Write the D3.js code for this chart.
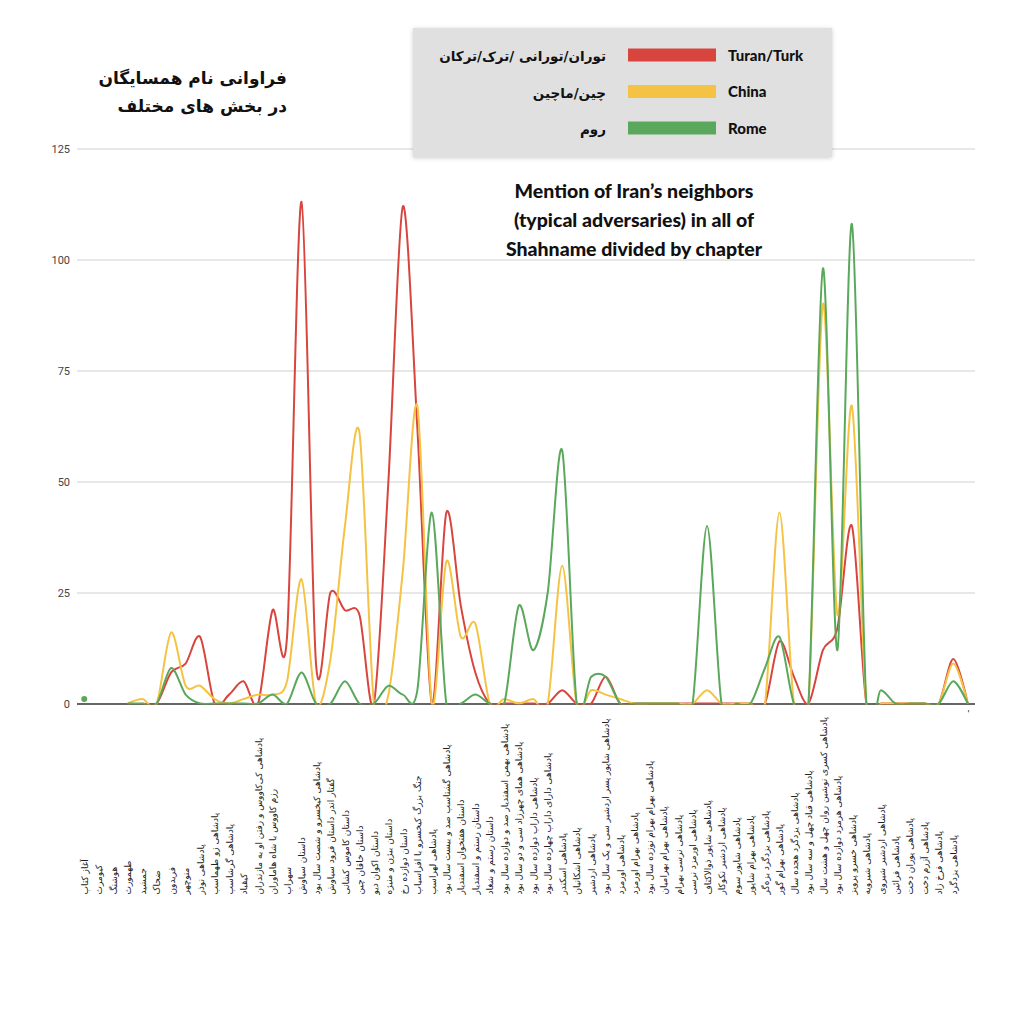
<!DOCTYPE html>
<html>
<head>
<meta charset="utf-8">
<style>
  body { margin: 0; background: #fff; }
  svg { display: block; }
  .ylab text { font-family: Roboto, "Liberation Sans", sans-serif; font-size: 11px; fill: #444; }
  .xlab { font-family: "DejaVu Sans", sans-serif; font-size: 9px; fill: #222; }
  .fa { font-family: "DejaVu Sans", sans-serif; font-weight: bold; fill: #111; }
  .en { font-family: Lato, sans-serif; font-weight: 900; fill: #111; }
</style>
</head>
<body>
<script src="https://cdn.jsdelivr.net/npm/d3@7/dist/d3.min.js"></script>
<script>
  // chapters of the Shahname (x categories)
  var chapters = [
    "آغاز کتاب", "کیومرث", "هوشنگ", "طهمورث", "جمشید", "ضحاک", "فریدون", "منوچهر",
    "پادشاهی نوذر", "پادشاهی زو طهماسب", "پادشاهی گرشاسب", "کیقباد",
    "پادشاهی کی‌کاووس و رفتن او به مازندران", "رزم کاووس با شاه هاماوران", "سهراب",
    "داستان سیاوش", "پادشاهی کیخسرو و شصت سال بود", "گفتار اندر داستان فرود سیاوش",
    "داستان کاموس کشانی", "داستان خاقان چین", "داستان اکوان دیو", "داستان بیژن و منیژه",
    "داستان دوازده رخ", "جنگ بزرگ کیخسرو با افراسیاب", "پادشاهی لهراسب",
    "پادشاهی گشتاسب صد و بیست سال بود", "داستان هفتخوان اسفندیار", "داستان رستم و اسفندیار",
    "داستان رستم و شغاد", "پادشاهی بهمن اسفندیار صد و دوازده سال بود",
    "پادشاهی همای چهرزاد سی و دو سال بود", "پادشاهی داراب دوازده سال بود",
    "پادشاهی دارای داراب چهارده سال بود", "پادشاهی اسکندر", "پادشاهی اشکانیان",
    "پادشاهی اردشیر", "پادشاهی شاپور پسر اردشیر سی و یک سال بود", "پادشاهی اورمزد",
    "پادشاهی بهرام اورمزد", "پادشاهی بهرام بهرام نوزده سال بود", "پادشاهی بهرام بهرامیان",
    "پادشاهی نرسی بهرام", "پادشاهی اورمزد نرسی", "پادشاهی شاپور ذوالاکتاف",
    "پادشاهی اردشیر نکوکار", "پادشاهی شاپور سوم", "پادشاهی بهرام شاپور",
    "پادشاهی یزدگرد بزه‌گر", "پادشاهی بهرام گور", "پادشاهی یزدگرد هجده سال",
    "پادشاهی قباد چهل و سه سال بود", "پادشاهی کسری نوشین روان چهل و هشت سال",
    "پادشاهی هرمزد دوازده سال بود", "پادشاهی خسرو پرویز", "پادشاهی شیرویه",
    "پادشاهی اردشیر شیروی", "پادشاهی فرائین", "پادشاهی پوران دخت", "پادشاهی آزرم دخت",
    "پادشاهی فرخ زاد", "پادشاهی یزدگرد", "-"
  ];

  // mentions per chapter (null = no value)
  var turan = [null, null, null, null, 0, 0, 7, 9, 15, 0, 2, 5, 0, 21, 15, 113, 9, 25, 21, 20,
               0, 50, 112, 62, 0, 43, 22, 7, 0, 0, 0, 0, 0, 3, 0, 0, 6, 0, 0, 0,
               0, 0, 0, 0, 0, 0, 0, 0, 14, 6, 0, 12, 17, 40, 0, 0, 0, 0, 0, 0, 10, 0];
  var china = [null, null, null, 0, 1, 0, 16, 4, 4, 1, 0, 1, 2, 2, 5, 28, 0, 10, 40, 61,
               0, 2, 30, 67, 0, 32, 15, 18, 0, 1, 0, 1, 0, 31, 0, 3, 2, 1, 0, 0,
               0, 0, 0, 3, 0, 0, 0, 0, 43, 0, 0, 90, 20, 67, 0, 0, 0, 0, 0, 0, 9, 0];
  var rome  = [1, null, null, 0, 0, 0, 8, 2, 0, 0, 0, 0, 0, 2, 0, 7, 0, 0, 5, 0,
               0, 4, 2, 3, 43, 0, 0, 2, 0, 0, 22, 12, 25, 57, 0, 6, 6, 0, 0, 0,
               0, 0, 0, 40, 0, 0, 0, 8, 15, 0, 0, 98, 12, 108, 0, 3, 0, 0, 0, 0, 5, 0];

  var yTicks = [0, 25, 50, 75, 100, 125];
  var seriesNames = ["Turan/Turk", "China", "Rome"];
  var seriesNamesFa = ["توران/تورانی /ترک/ترکان", "چین/ماچین", "روم"];
  var titleLines = ["فراوانی نام همسایگان", "در بخش های مختلف"];
  var subtitleLines = ["Mention of Iran’s neighbors", "(typical adversaries) in all of", "Shahname divided by chapter"];
  var colors = ["#d8453f", "#f5c344", "#5aa85b"];

  var series = [turan, china, rome];

  var margin = {top: 148.5, right: 49, bottom: 320.5, left: 77};
  var width = 1024 - margin.left - margin.right;
  var height = 1024 - margin.top - margin.bottom;

  var svg = d3.select("body").append("svg")
      .attr("width", 1024)
      .attr("height", 1024);

  svg.append("rect").attr("width", 1024).attr("height", 1024).attr("fill", "#fff");

  var g = svg.append("g")
      .attr("transform", "translate(" + margin.left + "," + margin.top + ")");

  var x = d3.scalePoint().domain(d3.range(chapters.length)).range([0, width]).padding(0.5);
  var y = d3.scaleLinear().domain([0, 125]).range([height, 0]);

  // gridlines + y labels
  var yAxis = d3.axisLeft(y).tickValues(yTicks).tickSize(-width).tickPadding(7);
  var yg = g.append("g").attr("class", "ylab").call(yAxis);
  yg.select(".domain").remove();
  yg.selectAll(".tick line").attr("stroke", function(d) { return d === 0 ? "#333" : "#d0d0d0"; })
      .attr("stroke-width", function(d) { return d === 0 ? 1.5 : 1; });

  // x labels, rotated, end of text aligned at the bottom
  var hasLetter = /\p{L}/u;
  var xAxis = d3.axisBottom(x).tickSize(0).tickFormat(function(i) { return chapters[i]; });
  var xg = g.append("g").attr("transform", "translate(0," + height + ")").call(xAxis);
  xg.select(".domain").remove();
  xg.selectAll(".tick text")
      .attr("class", "xlab")
      .attr("font-family", null).attr("font-size", null)
      .attr("transform", "rotate(-90)")
      .attr("y", 0)
      .attr("dy", "0.35em")
      .attr("x", function(i) { return hasLetter.test(chapters[i]) ? -191 : -6; })
      .attr("text-anchor", function(i) { return hasLetter.test(chapters[i]) ? "start" : "end"; });

  // clip lines that swing below zero
  svg.append("clipPath").attr("id", "plotclip")
    .append("rect").attr("x", -10).attr("y", -10).attr("width", width + 20).attr("height", height + 11);

  var line = d3.line()
      .defined(function(d) { return d != null; })
      .x(function(d, i) { return x(i); })
      .y(function(d) { return y(d); })
      .curve(d3.curveCardinal.tension(0.1));

  var lines = g.append("g").attr("clip-path", "url(#plotclip)");
  series.forEach(function(s, k) {
    lines.append("path")
      .datum(s)
      .attr("fill", "none")
      .attr("stroke", colors[k])
      .attr("stroke-width", 2)
      .attr("d", line);
    // isolated points are drawn as dots
    lines.selectAll(".dot" + k)
      .data(s.map(function(v, i) { return {v: v, i: i}; }).filter(function(d) {
        return d.v != null && s[d.i - 1] == null && s[d.i + 1] == null;
      }))
      .enter().append("circle")
      .attr("cx", function(d) { return x(d.i); })
      .attr("cy", function(d) { return y(d.v); })
      .attr("r", 3)
      .attr("fill", colors[k]);
  });

  // Persian title
  svg.selectAll(".title").data(titleLines).enter().append("text")
      .attr("class", "fa")
      .attr("x", 287)
      .attr("y", function(d, i) { return 84 + i * 28; })
      .attr("text-anchor", "end")
      .attr("font-size", 17)
      .text(function(d) { return d; });

  // legend box
  var defs = svg.append("defs");
  var f = defs.append("filter").attr("id", "shadow").attr("x", "-10%").attr("y", "-10%").attr("width", "120%").attr("height", "130%");
  f.append("feDropShadow").attr("dx", 0).attr("dy", 1).attr("stdDeviation", 2).attr("flood-color", "#000").attr("flood-opacity", 0.2);

  svg.append("rect")
      .attr("x", 413).attr("y", 28).attr("width", 419).attr("height", 129)
      .attr("fill", "#e0e0e0")
      .attr("filter", "url(#shadow)");

  var leg = svg.selectAll(".leg").data(seriesNames).enter().append("g")
      .attr("transform", function(d, i) { return "translate(0," + (55 + i * 36.5) + ")"; });
  leg.append("rect")
      .attr("x", 628).attr("y", -6.5).attr("width", 88).attr("height", 13)
      .attr("fill", function(d, i) { return colors[i]; });
  leg.append("text")
      .attr("class", "en")
      .attr("x", 728).attr("y", 5.5)
      .attr("font-size", 15)
      .text(function(d) { return d; });
  leg.append("text")
      .attr("class", "fa")
      .attr("x", 606).attr("y", 6)
      .attr("text-anchor", "end")
      .attr("font-size", 13.5)
      .text(function(d, i) { return seriesNamesFa[i]; });

  // English subtitle
  svg.selectAll(".sub").data(subtitleLines).enter().append("text")
      .attr("class", "en")
      .attr("x", 634)
      .attr("y", function(d, i) { return 198 + i * 29; })
      .attr("text-anchor", "middle")
      .attr("font-size", 19.5)
      .text(function(d) { return d; });
</script>
</body>
</html>
